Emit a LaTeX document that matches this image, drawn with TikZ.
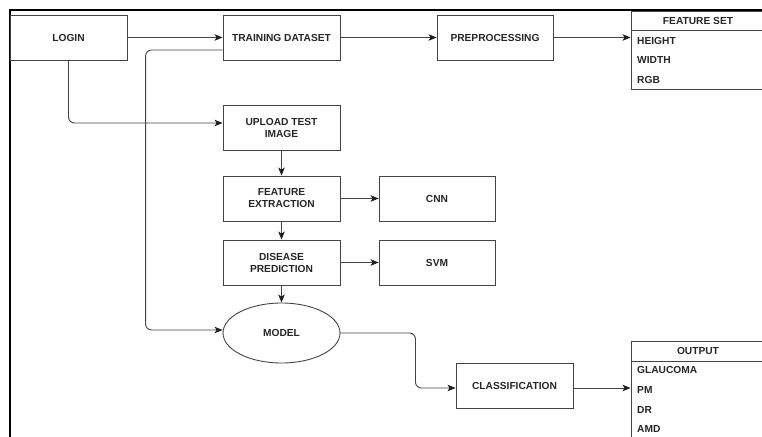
\documentclass[tikz,border=0pt]{standalone}
\usepackage{fontspec}
\setmainfont{Liberation Sans}
\usetikzlibrary{arrows.meta,shapes.geometric,calc}
\definecolor{ln}{HTML}{444444}
\definecolor{tx}{HTML}{262626}
\definecolor{tip}{HTML}{1E1E1E}
\begin{document}
\begin{tikzpicture}[x=1pt,y=-1pt,
  lbl/.style={font=\bfseries\fontsize{10.2}{12}\selectfont, text=tx},
  box/.style={lbl, draw=ln, line width=0.9pt, minimum width=117pt, minimum height=45pt, inner sep=0pt, align=center},
  ellbox/.style={lbl, ellipse, draw=ln, line width=0.9pt, minimum width=117pt, minimum height=60pt, inner sep=0pt},
  tbl/.style={draw=ln, line width=0.9pt, minimum width=134pt, inner sep=0pt},
  rowtxt/.style={lbl, anchor=west, inner sep=0pt},
  hdrtxt/.style={lbl, inner sep=0pt},
  arr/.style={draw=ln, line width=0.9pt, -{Stealth[length=8pt,width=6.5pt,inset=2pt,color=tip]}, rounded corners=6pt}
]
\useasboundingbox (0,0) rectangle (762,436);
% frame
\draw[line width=2pt, black] (9.5,437) -- (9.5,10.5) -- (763,10.5);

% boxes
\node[box] (login) at (68.5,37.5) {LOGIN};
\node[box] (train) at (281.5,37.5) {TRAINING DATASET};
\node[box, minimum width=116pt] (pre) at (495,37.5) {PREPROCESSING};
\node[box] (upload) at (281.5,127.5) {UPLOAD TEST\\IMAGE};
\node[box] (fe) at (281.5,198.5) {FEATURE\\EXTRACTION};
\node[box] (dp) at (281.5,262.5) {DISEASE\\PREDICTION};
\node[box, minimum width=116pt] (cnn) at (437,198.5) {CNN};
\node[box, minimum width=116pt] (svm) at (437,262.5) {SVM};
\node[ellbox] (model) at (281.5,333) {MODEL};
\node[box] (cls) at (514.5,385.5) {CLASSIFICATION};

% feature set table
\node[tbl, minimum height=78pt] (fs) at (698,50) {};
\draw[draw=ln, line width=0.9pt] (631,30) -- (765,30);
\node[hdrtxt] (fsh) at (698,21) {FEATURE SET};
\node[rowtxt] (fs1) at (637,40.6) {HEIGHT};
\node[rowtxt] (fs2) at (637,60.3) {WIDTH};
\node[rowtxt] (fs3) at (637,79.7) {RGB};

% output table
\node[tbl, minimum height=100pt] (out) at (698,391) {};
\draw[draw=ln, line width=0.9pt] (631,361) -- (765,361);
\node[hdrtxt] (outh) at (698,350.7) {OUTPUT};
\node[rowtxt] (o1) at (637,370.3) {GLAUCOMA};
\node[rowtxt] (o2) at (637,390) {PM};
\node[rowtxt] (o3) at (637,409.7) {DR};
\node[rowtxt] (o4) at (637,429) {AMD};

% connector end points
\coordinate (upin) at ($(upload.west)+(0,-4.5)$);
\coordinate (trout) at ($(train.west)+(0,12.5)$);
\coordinate (mdin) at ($(model.west)+(0,-3)$);
\coordinate (clin) at ($(cls.west)+(0,2.5)$);
\coordinate (clout) at ($(cls.east)+(0,2.5)$);

% connectors
\draw[arr] (login.east) -- (train.west);
\draw[arr] (train.east) -- (pre.west);
\draw[arr] (pre.east) -- (pre.east -| fs.west);
\draw[arr] (login.south) |- (upin);
\draw[arr] (trout) -- ++(-77,0) |- (mdin);
\draw[arr] (upload.south) -- (fe.north);
\draw[arr] (fe.south) -- (dp.north);
\draw[arr] (fe.east) -- (cnn.west);
\draw[arr] (dp.east) -- (svm.west);
\draw[arr] (dp.south) -- (model.north);
\draw[arr] (model.east) -- ++(75,0) |- (clin);
\draw[arr] (clout) -- (clout -| out.west);
\end{tikzpicture}
\end{document}
